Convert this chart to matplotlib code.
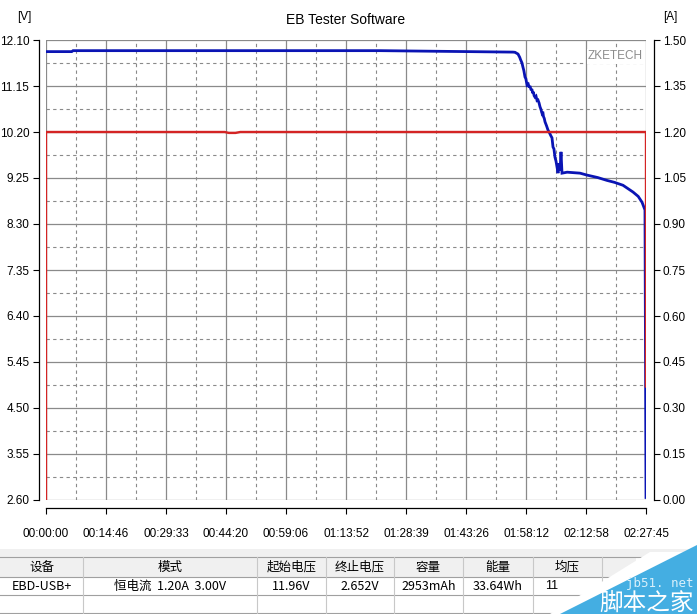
import numpy as np
import matplotlib
matplotlib.use("Agg")
import matplotlib.pyplot as plt
from matplotlib.patches import Polygon, Rectangle

plt.rcParams['font.family'] = ['Liberation Sans', 'Noto Sans CJK SC', 'DejaVu Sans']

# voltage trace (seconds, volts)
volt_t = [0, 380, 400, 4935, 6900, 6929, 6974, 7000, 7010, 7033, 7045, 7060, 7077,
          7090, 7107, 7125, 7140, 7150, 7165, 7181, 7192, 7200, 7212, 7225, 7240,
          7255, 7269, 7285, 7299, 7310, 7328, 7340, 7350, 7362, 7373, 7395, 7417,
          7440, 7460, 7476, 7491, 7505, 7520, 7535, 7550, 7565, 7580, 7595, 7609,
          7624, 7700, 7890, 7993, 8150, 8289, 8400, 8525, 8673, 8750, 8806, 8850,
          8865]
volt_v = [11.86, 11.86, 11.88, 11.88, 11.85, 11.846, 11.81, 11.74, 11.70, 11.625,
          11.55, 11.47, 11.336, 11.30, 11.17, 11.19, 11.12, 11.15, 11.08, 11.07,
          11.00, 11.03, 10.95, 10.92, 10.94, 10.85, 10.86, 10.80, 10.72, 10.68,
          10.59, 10.62, 10.52, 10.48, 10.41, 10.33, 10.24, 10.18, 10.12, 10.08,
          9.89, 9.85, 9.68, 9.60, 9.48, 9.35, 9.55, 9.40, 9.79, 9.35, 9.37,
          9.35, 9.31, 9.26, 9.20, 9.16, 9.10, 8.96, 8.87, 8.75, 8.59, 2.652]

# current trace (seconds, amps)
cur_t = [0, 0, 2640, 2700, 2800, 2870, 8865, 8865]
cur_a = [0, 1.20, 1.20, 1.197, 1.197, 1.20, 1.20, 0.37]

time_labels = ['00:00:00', '00:14:46', '00:29:33', '00:44:20', '00:59:06', '01:13:52',
               '01:28:39', '01:43:26', '01:58:12', '02:12:58', '02:27:45']
total_s = 8865

v_ticks = [2.60, 3.55, 4.50, 5.45, 6.40, 7.35, 8.30, 9.25, 10.20, 11.15, 12.10]
a_ticks = [0.00, 0.15, 0.30, 0.45, 0.60, 0.75, 0.90, 1.05, 1.20, 1.35, 1.50]

headers = ['设备', '模式', '起始电压', '终止电压', '容量', '能量', '均压', '']
row = ['EBD-USB+', '恒电流  1.20A  3.00V', '11.96V', '2.652V', '2953mAh', '33.64Wh', '11', '']

W, H = 697, 614
fig = plt.figure(figsize=(W / 100, H / 100), dpi=100)
ax = fig.add_axes([46 / W, 1 - 500 / H, 600 / W, 460 / H])
ax2 = ax.twinx()

xt = np.linspace(0, total_s, len(time_labels))
xm = (xt[:-1] + xt[1:]) / 2
ax.set_xlim(0, total_s)
ax.set_ylim(v_ticks[0], v_ticks[-1])
ax2.set_ylim(a_ticks[0], a_ticks[-1])

ax.set_xticks(xt)
ax.set_xticklabels(time_labels)
ax.set_xticks(xm, minor=True)
ax.set_yticks(v_ticks)
ax.set_yticklabels(['%.2f' % v for v in v_ticks])
ax.set_yticks([(a + b) / 2 for a, b in zip(v_ticks[:-1], v_ticks[1:])], minor=True)
ax2.set_yticks(a_ticks)
ax2.set_yticklabels(['%.2f' % a for a in a_ticks])

ax.set_axisbelow(True)
ax.grid(which='major', color='#8a8a8a', lw=0.9, ls='-')
ax.grid(which='minor', color='#8a8a8a', lw=0.8, ls=(0, (3, 3)))

for s in ['top', 'right']:
    ax.spines[s].set_visible(False)
for s in ['top', 'left', 'bottom']:
    ax2.spines[s].set_visible(False)
ax.spines['left'].set_position(('outward', 5))
ax.spines['bottom'].set_position(('outward', 6))
ax2.spines['right'].set_position(('outward', 6))
for sp in [ax.spines['left'], ax.spines['bottom'], ax2.spines['right']]:
    sp.set_color('black')
    sp.set_linewidth(0.9)

ax.tick_params(which='major', axis='x', length=4, pad=10, labelsize=8.5)
ax.tick_params(which='major', axis='y', length=4, pad=3, labelsize=8.5)
ax.tick_params(which='minor', length=0)
ax2.tick_params(axis='y', length=4, pad=2, labelsize=8.5)

ax.plot(volt_t, volt_v, color='#0a14b4', lw=2.0, solid_joinstyle='miter')
ax2.plot(cur_t, cur_a, color='#d42424', lw=1.7)

ax.text(0.995, 0.965, 'ZKETECH', transform=ax.transAxes, ha='right', va='center',
        color='#8c8c8c', fontsize=8.5,
        bbox=dict(facecolor='white', edgecolor='none', pad=1))

fig.text(346 / W, 1 - 20 / H, 'EB Tester Software', ha='center', va='center', fontsize=10)
fig.text(24 / W, 1 - 17 / H, '[V]', ha='center', va='center', fontsize=8.5)
fig.text(670 / W, 1 - 17 / H, '[A]', ha='center', va='center', fontsize=8.5)

# summary table below the chart
tab = fig.add_axes([0, 0, 1, 70 / H])
tab.set_xlim(0, W)
tab.set_ylim(70, 0)
tab.axis('off')
y0 = 544
edges = [0, 83, 257, 326, 394, 463, 533, 602, 697]
tab.add_patch(Rectangle((0, 549 - y0), W, 8, facecolor='#f0f0f0', edgecolor='none'))
tab.add_patch(Rectangle((0, 557 - y0), 636, 20, facecolor='#f0f0f0', edgecolor='none'))
for yy in [557, 577, 595, 613]:
    tab.plot([0, W], [yy - y0, yy - y0], color='#a0a0a0', lw=0.8)
for xx in edges[1:-1]:
    tab.plot([xx, xx], [557 - y0, 613 - y0], color='#c8c8c8', lw=0.8)
for i, (h, r) in enumerate(zip(headers, row)):
    cx = (edges[i] + edges[i + 1]) / 2
    tab.text(cx, 567 - y0, h, ha='center', va='center', fontsize=9,
             family=['Noto Sans CJK SC', 'DejaVu Sans'])
    if r == '11':
        tab.text(edges[i] + 12, 586 - y0, r, ha='left', va='center', fontsize=9)
    else:
        tab.text(cx, 586 - y0, r, ha='center', va='center', fontsize=9,
                 family=['Noto Sans CJK SC', 'Liberation Sans'])

# watermark in the corner
tab.add_patch(Polygon([(550, 70), (650, 552 - y0), (697, 552 - y0), (697, 70)],
                      closed=True, facecolor='white', edgecolor='none', zorder=5))
tab.add_patch(Polygon([(560, 70), (697, 545 - y0), (697, 70)],
                      closed=True, facecolor='#44aee2', edgecolor='none', zorder=6))
tab.text(694, 584 - y0, 'jb51. net', ha='right', va='center', fontsize=9,
         color='#d8f0fb', family='DejaVu Sans Mono', zorder=7)
tab.text(694, 603 - y0, '脚本之家', ha='right', va='center', fontsize=17,
         color='white', family='Noto Sans CJK SC', zorder=7)

fig.savefig('out.png', dpi=100)
